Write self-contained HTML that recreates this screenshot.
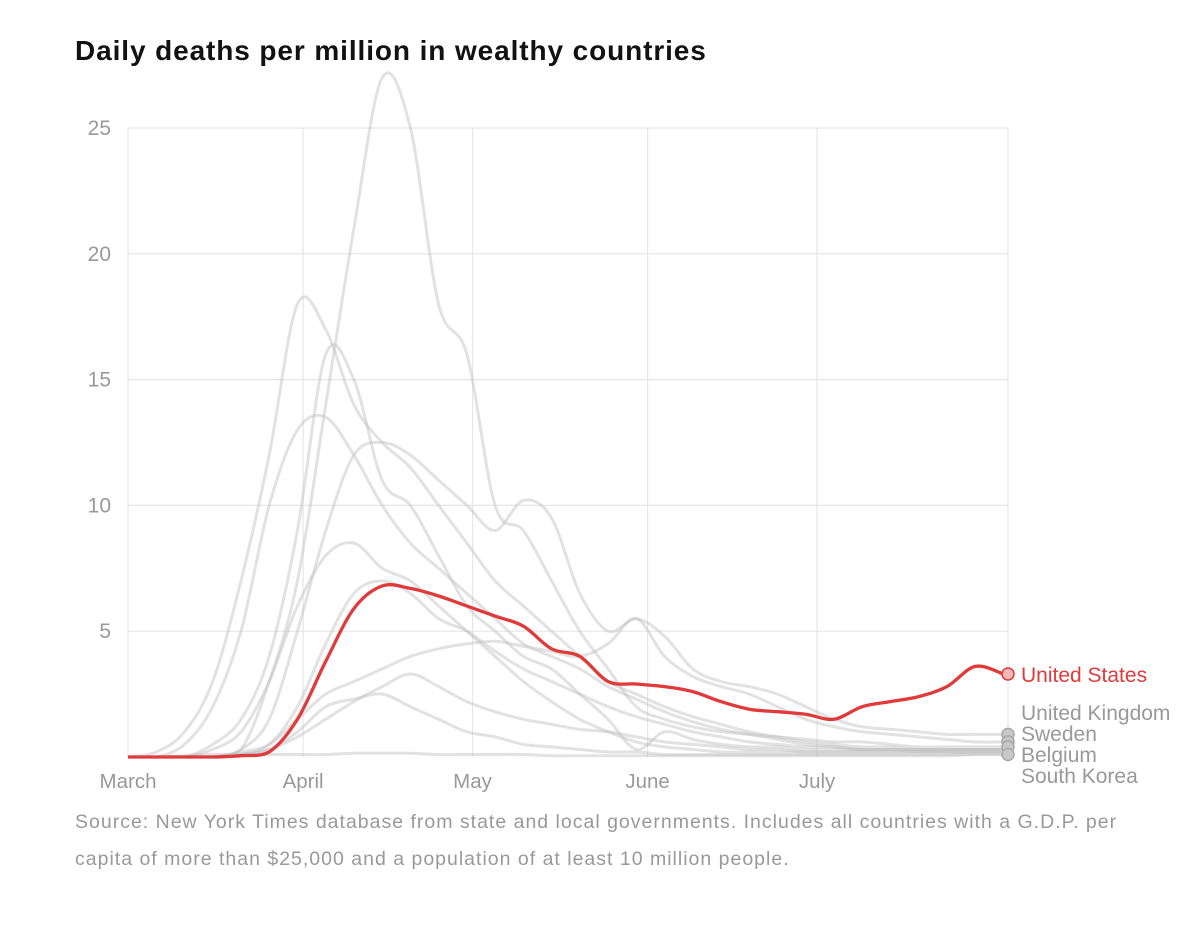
<!DOCTYPE html>
<html><head><meta charset="utf-8"><style>
body{margin:0;background:#fff;width:1200px;height:947px;overflow:hidden;font-family:"Liberation Sans",sans-serif}
#title{position:absolute;left:75px;top:35px;font-size:28px;font-weight:bold;color:#121212;letter-spacing:0.9px}
#src{position:absolute;left:75px;top:804px;width:1110px;font-size:19.5px;line-height:37px;color:#999;white-space:nowrap;letter-spacing:1px}
svg{position:absolute;left:0;top:0}
</style></head><body>
<div id="title">Daily deaths per million in wealthy countries</div>
<svg id="chart" width="1200" height="800"></svg>
<div id="src">Source: New York Times database from state and local governments. Includes all countries with a G.D.P. per<br>capita of more than $25,000 and a population of at least 10 million people.</div>
<script>
// day index every 5 days from March 1
const days=[0,5,10,15,20,25,30,35,40,45,50,55,60,65,70,75,80,85,90,95,100,105,110,115,120,125,130,135,140,145,150,155];
const usValues=[0,0,0,0,0.05,0.2,1.5,3.8,5.9,6.8,6.7,6.4,6.0,5.6,5.2,4.3,4.0,3.0,2.9,2.8,2.6,2.2,1.9,1.8,1.7,1.5,2.0,2.2,2.4,2.8,3.6,3.3];
const seriesA=[0,0.2,1,3,7,12,18,17,14,12.5,11.5,10,8.5,7,6,5,4,3,2.5,2,1.6,1.3,1,0.8,0.6,0.5,0.4,0.4,0.3,0.3,0.3,0.3];
const seriesB=[0,0,0.5,2,5,10,13,13.5,12,10,8.5,7.5,6.5,5.5,4.5,4,3.5,2.8,2.3,1.8,1.4,1.1,0.9,0.7,0.5,0.4,0.3,0.3,0.2,0.2,0.2,0.2];
const seriesC=[0,0,0,0,0.3,3,7,14,21,27,25,18,16,10,9,7,5,3.5,2,1.5,1.2,1,0.9,0.8,0.7,0.6,0.6,0.5,0.4,0.4,0.4,0.4];
const seriesD=[0,0,0,0,0.3,1.5,5,9,12,12.5,12,11,10,9,10.2,9.5,6.5,5,5.5,4.8,3.5,3,2.8,2.5,2,1.5,1.2,1.1,1,0.9,0.9,0.9];
const seriesE=[0,0,0,0.5,1.5,4,9,16,15,11,10,8,6,5,4,3.5,2.5,1.5,0.3,1,0.7,0.5,0.4,0.4,0.3,0.3,0.3,0.3,0.3,0.3,0.3,0.3];
const seriesF=[0,0,0,0.3,1,3,6,8,8.5,7.5,7,6,5,4,3,2.2,1.5,1,0.6,0.4,0.3,0.2,0.2,0.2,0.2,0.2,0.2,0.2,0.2,0.2,0.2,0.2];
const seriesG=[0,0,0,0,0.2,0.5,1.5,2.5,3,3.5,4,4.3,4.5,4.6,4.4,4.2,4,4.5,5.5,4,3.2,2.8,2.5,2,1.5,1.2,1,0.9,0.8,0.7,0.6,0.6];
const seriesH=[0,0,0,0,0.1,0.3,0.8,1.5,2.2,2.8,3.3,2.8,2.2,1.8,1.5,1.3,1.1,1,0.8,0.6,0.5,0.4,0.3,0.3,0.2,0.2,0.2,0.2,0.2,0.2,0.2,0.2];
const seriesI=[0,0,0,0,0.1,0.5,2,4.5,6.5,7,6.5,5.5,5,4.2,3.5,3,2.5,2,1.6,1.3,1,0.8,0.6,0.5,0.4,0.4,0.3,0.3,0.3,0.3,0.3,0.3];
const seriesJ=[0,0,0,0,0.1,0.3,1,2,2.3,2.5,2,1.5,1,0.8,0.5,0.4,0.3,0.2,0.2,0.1,0.1,0.1,0.1,0.1,0.1,0.1,0.1,0.1,0.1,0.1,0.1,0.1];
const seriesK=[0,0,0.05,0.1,0.1,0.1,0.1,0.1,0.15,0.15,0.15,0.1,0.1,0.1,0.1,0.05,0.05,0.05,0.05,0.05,0.05,0.05,0.05,0.05,0.05,0.05,0.05,0.05,0.05,0.05,0.1,0.1];
const grayLines=[seriesA,seriesB,seriesC,seriesD,seriesE,seriesF,seriesG,seriesH,seriesI,seriesJ,seriesK];
const yTicks=[5,10,15,20,25];
const monthLabels=["March","April","May","June","July"];
const monthDays=[0,31,61,92,122];
const endLabels=["United Kingdom","Sweden","Belgium","South Korea"];
const endValues=[0.9,0.6,0.4,0.1];

const NS="http://www.w3.org/2000/svg";
const svg=document.getElementById('chart');
const x0=128,pxDay=5.648,y0=757,pxUnit=25.16,xEnd=1008;
const X=d=>x0+d*pxDay, Y=v=>y0-v*pxUnit;
function mk(tag,attrs){const e=document.createElementNS(NS,tag);for(const k in attrs)e.setAttribute(k,attrs[k]);svg.appendChild(e);return e;}
yTicks.forEach(t=>{
  const l=mk('line',{x1:x0,x2:xEnd,y1:Y(t),y2:Y(t),stroke:'#e6e6e6','stroke-width':1.2});
  
  
  const tx=mk('text',{x:111,y:Y(t)+7,'text-anchor':'end','font-size':21,fill:'#999'});
  tx.textContent=t;
  
  
});
monthDays.concat([(xEnd-x0)/pxDay]).forEach((d,i)=>{
  const l=mk('line',{x1:X(d),x2:X(d),y1:Y(25),y2:y0,stroke:'#e6e6e6','stroke-width':1.2});
  
  
  if(i<monthLabels.length){
    const tx=mk('text',{x:X(d),y:788,'text-anchor':'middle','font-size':20.5,fill:'#999'});
    tx.textContent=monthLabels[i];
    
    
  }
});
function path(vals){
  const p=vals.map((v,i)=>[X(days[i]),Y(v)]);
  let d='M'+p[0][0].toFixed(1)+','+p[0][1].toFixed(1);
  for(let i=0;i<p.length-1;i++){
    const a=p[Math.max(0,i-1)],b=p[i],c=p[i+1],e=p[Math.min(p.length-1,i+2)];
    let c1y=b[1]+(c[1]-a[1])/6, c2y=c[1]-(e[1]-b[1])/6;
    c1y=Math.min(c1y,y0); c2y=Math.min(c2y,y0);
    d+='C'+(b[0]+(c[0]-a[0])/6).toFixed(1)+','+c1y.toFixed(1)+' '+(c[0]-(e[0]-b[0])/6).toFixed(1)+','+c2y.toFixed(1)+' '+c[0].toFixed(1)+','+c[1].toFixed(1);
  }
  return d;
}
grayLines.forEach(s=>{
  const p=mk('path',{d:path(s),fill:'none',stroke:'rgba(190,190,190,0.45)','stroke-width':3,'stroke-linejoin':'round'});
  
  
});
const us=mk('path',{d:path(usValues),fill:'none',stroke:'#e03a3a','stroke-width':3.3,'stroke-linejoin':'round'});


endValues.forEach(v=>{
  const c=mk('circle',{cx:xEnd,cy:Y(v),r:6,fill:'#c8c8c8',stroke:'#a8a8a8','stroke-width':1.5});
  
  
});
const ud=mk('circle',{cx:xEnd,cy:Y(usValues[usValues.length-1]),r:6,fill:'#f7b8b8',stroke:'#e03a3a','stroke-width':1.5});


const ul=mk('text',{x:1021,y:682,'font-size':21,fill:'#e03a3a'});
ul.textContent='United States';


endLabels.forEach((n,i)=>{
  const t=mk('text',{x:1021,y:720+i*21,'font-size':21,fill:'#999'});
  t.textContent=n;
  
  
});
</script>
</body></html>
